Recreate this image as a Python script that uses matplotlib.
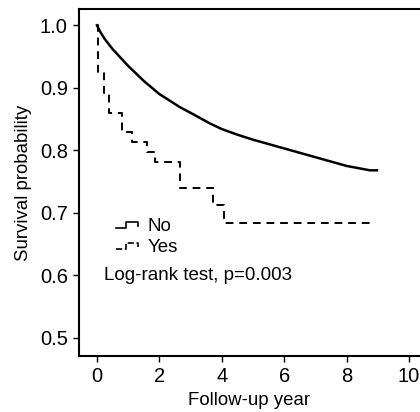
import matplotlib
matplotlib.use('Agg')
import matplotlib.pyplot as plt
from matplotlib.lines import Line2D
from matplotlib.legend_handler import HandlerBase

plt.rcParams['font.family'] = ['Liberation Sans', 'DejaVu Sans']

# Kaplan-Meier curves
t_no = [0, 0.1, 0.25, 0.5, 0.74, 1.0, 1.5, 2.0, 2.66, 3.0, 3.62, 4.0, 4.5, 5.0, 6.0, 7.0, 8.0, 8.75, 8.97]
s_no = [1.0, 0.99, 0.978, 0.962, 0.949, 0.935, 0.911, 0.89, 0.869, 0.86, 0.843, 0.834, 0.825, 0.817, 0.803, 0.789, 0.775, 0.768, 0.768]

t_yes = [0, 0.04, 0.22, 0.38, 0.8, 1.12, 1.6, 1.86, 2.66, 3.72, 4.07, 8.78]
s_yes = [1.0, 0.925, 0.892, 0.859, 0.829, 0.813, 0.797, 0.781, 0.739, 0.712, 0.684, 0.684]

groups = ['No', 'Yes']
xticks = [0, 2, 4, 6, 8, 10]
yticks = [0.5, 0.6, 0.7, 0.8, 0.9, 1.0]


class StepHandler(HandlerBase):
    def create_artists(self, legend, orig, xd, yd, w, h, fs, trans):
        xs = [xd, xd + 0.45 * w, xd + 0.45 * w, xd + w, xd + w]
        ys = [yd + 0.2 * h, yd + 0.2 * h, yd + 0.7 * h, yd + 0.7 * h, yd + 0.35 * h]
        ln = Line2D(xs, ys, color='black', lw=1.2,
                    ls=orig.get_linestyle(), transform=trans)
        return [ln]


fig = plt.figure(figsize=(4.2, 4.12), dpi=100)
ax = fig.add_axes([0.188, 0.136, 0.812, 0.842])

h1, = ax.plot(t_no, s_no, color='black', lw=1.8, label=groups[0])
h2, = ax.step(t_yes, s_yes, where='post', color='black', lw=1.4,
              ls=(0, (4, 3)), label=groups[1])

ax.set_xlim(-0.577, 10.35)
ax.set_ylim(0.471, 1.026)
ax.set_xticks(xticks)
ax.set_yticks(yticks)
ax.set_xticklabels([str(v) for v in xticks])
ax.set_yticklabels([f'{v:.1f}' for v in yticks])
ax.tick_params(labelsize=14.5, length=4, width=1, direction='out', pad=4)

for s in ['left', 'top', 'bottom']:
    ax.spines[s].set_linewidth(1.5)
ax.spines['right'].set_visible(False)

ax.set_xlabel('Follow-up year', fontsize=13.4, labelpad=4)
ax.set_ylabel('Survival probability', fontsize=13.4, labelpad=6)

ax.legend([h1, h2], groups, handler_map={Line2D: StepHandler()},
          loc='upper left', bbox_to_anchor=(0.08, 0.425), frameon=False,
          fontsize=13.5, handlelength=1.2, handletextpad=0.5,
          labelspacing=0.2, borderpad=0)

ax.text(0.22, 0.6, 'Log-rank test, p=0.003', fontsize=13.5, va='center', ha='left')

fig.savefig('out.png', dpi=100)
